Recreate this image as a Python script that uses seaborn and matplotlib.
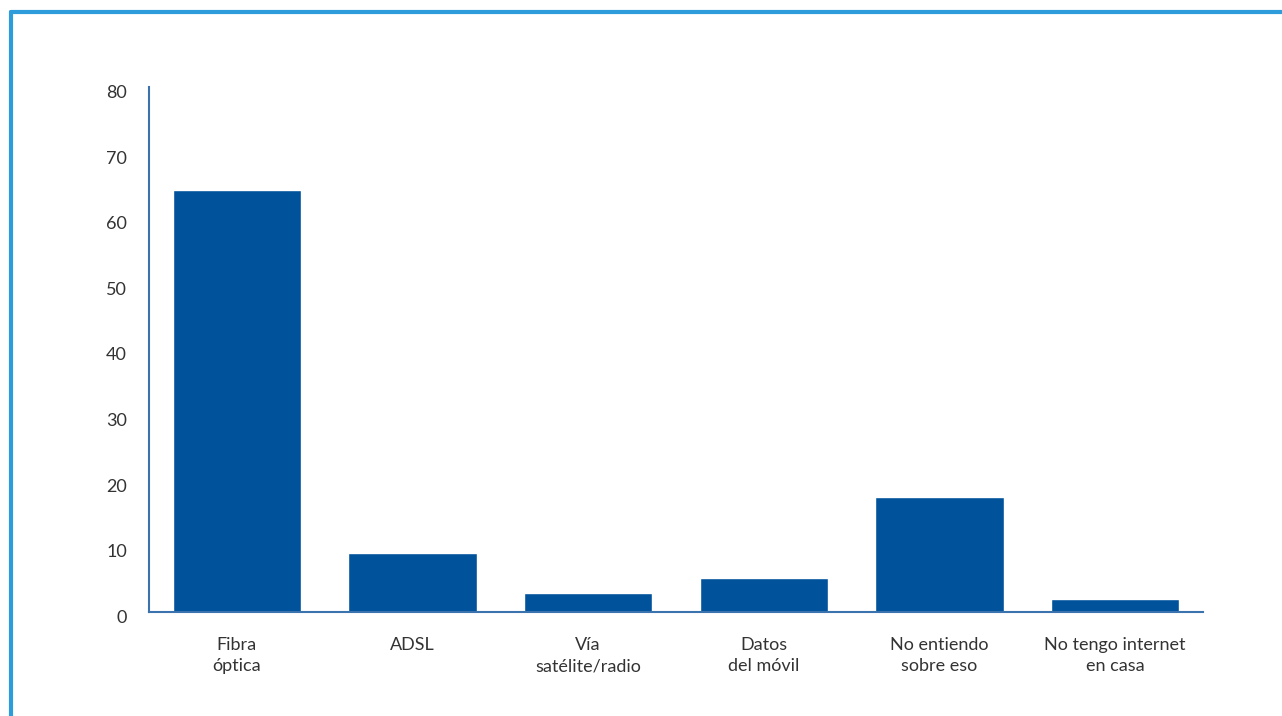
import matplotlib
matplotlib.use('Agg')
import matplotlib.pyplot as plt
import matplotlib.transforms as mtransforms
import seaborn as sns
import pandas as pd
from matplotlib.lines import Line2D

# datos
categorias = ['Fibra\nóptica', 'ADSL', 'Vía\nsatélite/radio', 'Datos\ndel móvil',
              'No entiendo\nsobre eso', 'No tengo internet\nen casa']
valores = [64.3, 9.0, 2.9, 5.2, 17.6, 2.0]
yticks = [0, 10, 20, 30, 40, 50, 60, 70, 80]

sns.set_style('white')
plt.rcParams['font.family'] = ['Lato', 'DejaVu Sans']

df = pd.DataFrame({'categoria': categorias, 'valor': valores})

fig = plt.figure(figsize=(12.82, 7.16), dpi=100)
ax = fig.add_axes([149 / 1282, 104 / 716, (1203 - 149) / 1282, (612 - 87) / 716])

sns.barplot(data=df, x='categoria', y='valor', color='#00529B', width=0.73,
            saturation=1, ax=ax)

ax.set_ylim(0, 80)
ax.set_xlim(-0.5, 5.5)
ax.set_yticks(yticks)
ax.set_yticklabels([str(v) for v in yticks], fontsize=13, color='#333333', va='center')
ax.set_xticklabels(categorias, fontsize=13, color='#333333', linespacing=1.4)
ax.tick_params(axis='both', length=0)
ax.tick_params(axis='y', pad=16)
ax.tick_params(axis='x', pad=18)
ax.set_xlabel('')
ax.set_ylabel('')

# bajar un poco las etiquetas del eje y
desplaza = mtransforms.ScaledTranslation(0, -6 / 100, fig.dpi_scale_trans)
for lab in ax.get_yticklabels():
    lab.set_transform(lab.get_transform() + desplaza)

sns.despine(ax=ax)
for s in ['left', 'bottom']:
    ax.spines[s].set_color('#3B73AE')
    ax.spines[s].set_linewidth(1.5)

# marco superior e izquierdo
fig.add_artist(Line2D([0.0086, 1.0], [0.9832, 0.9832], color='#2E9BDA', lw=3,
                      transform=fig.transFigure))
fig.add_artist(Line2D([0.0086, 0.0086], [0.0, 0.9832], color='#2E9BDA', lw=3,
                      transform=fig.transFigure))

fig.savefig('out.png', dpi=100, facecolor='white')
